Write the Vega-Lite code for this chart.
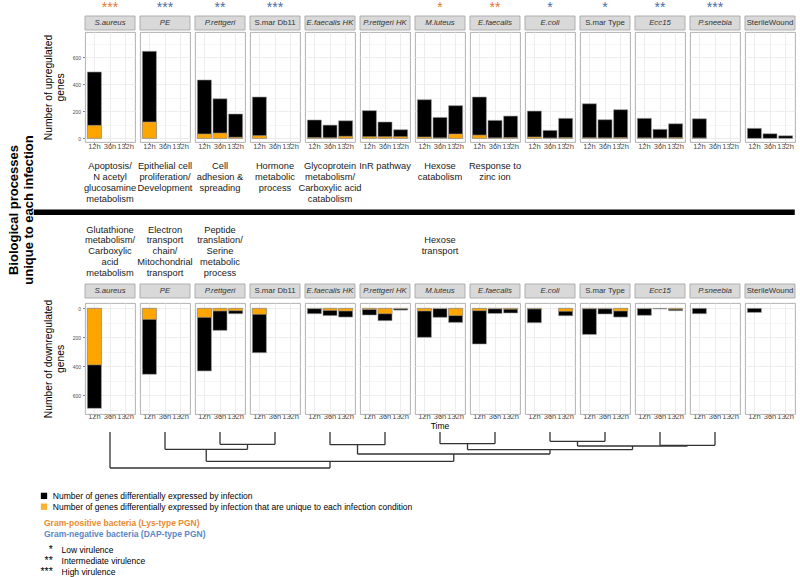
{
"$schema": "https://vega.github.io/schema/vega-lite/v6.json",
"background": "white",
"padding": {"left": 0, "top": 0, "right": 0, "bottom": 0},
"config": {
  "font": "Liberation Sans",
  "view": {"stroke": "#A8A8A8", "strokeWidth": 0.9},
  "concat": {"spacing": 0}
},
"datasets": {
  "title": [{"label": "Biological processes\nunique to each infection"}],
  "panels": [
    {"infection": "S.aureus", "stars": "***", "gram": "positive"},
    {"infection": "PE", "stars": "***", "gram": "negative"},
    {"infection": "P.rettgeri", "stars": "**", "gram": "negative"},
    {"infection": "S.mar Db11", "stars": "***", "gram": "negative"},
    {"infection": "E.faecalis HK", "stars": "", "gram": "positive"},
    {"infection": "P.rettgeri HK", "stars": "", "gram": "negative"},
    {"infection": "M.luteus", "stars": "*", "gram": "positive"},
    {"infection": "E.faecalis", "stars": "**", "gram": "positive"},
    {"infection": "E.coli", "stars": "*", "gram": "negative"},
    {"infection": "S.mar Type", "stars": "*", "gram": "negative"},
    {"infection": "Ecc15", "stars": "**", "gram": "negative"},
    {"infection": "P.sneebia", "stars": "***", "gram": "negative"},
    {"infection": "SterileWound", "stars": "", "gram": "none"}
  ],
  "bars": [
    {"infection": "S.aureus", "time": "12h", "up_total": 491, "up_unique": 96, "down_total": 690, "down_unique": 390},
    {"infection": "PE", "time": "12h", "up_total": 644, "up_unique": 121, "down_total": 455, "down_unique": 76},
    {"infection": "P.rettgeri", "time": "12h", "up_total": 432, "up_unique": 32, "down_total": 432, "down_unique": 62},
    {"infection": "P.rettgeri", "time": "36h", "up_total": 293, "up_unique": 39, "down_total": 152, "down_unique": 18},
    {"infection": "P.rettgeri", "time": "132h", "up_total": 180, "up_unique": 8, "down_total": 37, "down_unique": 16},
    {"infection": "S.mar Db11", "time": "12h", "up_total": 306, "up_unique": 20, "down_total": 306, "down_unique": 41},
    {"infection": "E.faecalis HK", "time": "12h", "up_total": 136, "up_unique": 5, "down_total": 37, "down_unique": 2},
    {"infection": "E.faecalis HK", "time": "36h", "up_total": 98, "up_unique": 4, "down_total": 50, "down_unique": 14},
    {"infection": "E.faecalis HK", "time": "132h", "up_total": 130, "up_unique": 15, "down_total": 60, "down_unique": 18},
    {"infection": "P.rettgeri HK", "time": "12h", "up_total": 205, "up_unique": 12, "down_total": 46, "down_unique": 8},
    {"infection": "P.rettgeri HK", "time": "36h", "up_total": 121, "up_unique": 12, "down_total": 85, "down_unique": 37},
    {"infection": "P.rettgeri HK", "time": "132h", "up_total": 64, "up_unique": 12, "down_total": 12, "down_unique": 3},
    {"infection": "M.luteus", "time": "12h", "up_total": 286, "up_unique": 10, "down_total": 200, "down_unique": 18},
    {"infection": "M.luteus", "time": "36h", "up_total": 155, "up_unique": 3, "down_total": 62, "down_unique": 2},
    {"infection": "M.luteus", "time": "132h", "up_total": 242, "up_unique": 32, "down_total": 97, "down_unique": 50},
    {"infection": "E.faecalis", "time": "12h", "up_total": 306, "up_unique": 24, "down_total": 246, "down_unique": 16},
    {"infection": "E.faecalis", "time": "36h", "up_total": 133, "up_unique": 3, "down_total": 35, "down_unique": 3},
    {"infection": "E.faecalis", "time": "132h", "up_total": 165, "up_unique": 5, "down_total": 32, "down_unique": 6},
    {"infection": "E.coli", "time": "12h", "up_total": 202, "up_unique": 10, "down_total": 99, "down_unique": 4},
    {"infection": "E.coli", "time": "36h", "up_total": 59, "up_unique": 2, "down_total": null, "down_unique": null},
    {"infection": "E.coli", "time": "132h", "up_total": 148, "up_unique": 5, "down_total": 51, "down_unique": 20},
    {"infection": "S.mar Type", "time": "12h", "up_total": 256, "up_unique": 4, "down_total": 180, "down_unique": 3},
    {"infection": "S.mar Type", "time": "36h", "up_total": 138, "up_unique": 3, "down_total": 39, "down_unique": 3},
    {"infection": "S.mar Type", "time": "132h", "up_total": 212, "up_unique": 5, "down_total": 60, "down_unique": 18},
    {"infection": "Ecc15", "time": "12h", "up_total": 148, "up_unique": 3, "down_total": 48, "down_unique": 2},
    {"infection": "Ecc15", "time": "36h", "up_total": 67, "up_unique": 2, "down_total": 4, "down_unique": null},
    {"infection": "Ecc15", "time": "132h", "up_total": 108, "up_unique": 5, "down_total": 16, "down_unique": 6},
    {"infection": "P.sneebia", "time": "12h", "up_total": 145, "up_unique": 2, "down_total": 37, "down_unique": null},
    {"infection": "SterileWound", "time": "12h", "up_total": 74, "up_unique": null, "down_total": 28, "down_unique": null},
    {"infection": "SterileWound", "time": "36h", "up_total": 34, "up_unique": null, "down_total": null, "down_unique": null},
    {"infection": "SterileWound", "time": "132h", "up_total": 19, "up_unique": null, "down_total": null, "down_unique": null}
  ],
  "annot": [
    {"infection": "S.aureus", "set": "upregulated", "text": "Apoptosis/\nN acetyl\nglucosamine\nmetabolism"},
    {"infection": "PE", "set": "upregulated", "text": "Epithelial cell\nproliferation/\nDevelopment"},
    {"infection": "P.rettgeri", "set": "upregulated", "text": "Cell\nadhesion &\nspreading"},
    {"infection": "S.mar Db11", "set": "upregulated", "text": "Hormone\nmetabolic\nprocess"},
    {"infection": "E.faecalis HK", "set": "upregulated", "text": "Glycoprotein\nmetabolism/\nCarboxylic acid\ncatabolism"},
    {"infection": "P.rettgeri HK", "set": "upregulated", "text": "InR pathway"},
    {"infection": "M.luteus", "set": "upregulated", "text": "Hexose\ncatabolism"},
    {"infection": "E.faecalis", "set": "upregulated", "text": "Response to\nzinc ion"},
    {"infection": "S.aureus", "set": "downregulated", "text": "Glutathione\nmetabolism/\nCarboxylic\nacid\nmetabolism"},
    {"infection": "PE", "set": "downregulated", "text": "Electron\ntransport\nchain/\nMitochondrial\ntransport"},
    {"infection": "P.rettgeri", "set": "downregulated", "text": "Peptide\ntranslation/\nSerine\nmetabolic\nprocess"},
    {"infection": "M.luteus", "set": "downregulated", "text": "\n\n\nHexose\ntransport"}
  ],
  "sep": [{"start": -0.886, "end": 12.95}],
  "dendro": [
    {"x": 0.5, "x2": 0.5, "y": 0, "y2": 36},
    {"x": 1.5, "x2": 1.5, "y": 0, "y2": 17.3},
    {"x": 2.5, "x2": 2.5, "y": 0, "y2": 12.3},
    {"x": 3.5, "x2": 3.5, "y": 0, "y2": 12.3},
    {"x": 4.5, "x2": 4.5, "y": 0, "y2": 12.7},
    {"x": 5.5, "x2": 5.5, "y": 0, "y2": 12.7},
    {"x": 6.5, "x2": 6.5, "y": 0, "y2": 11.7},
    {"x": 7.5, "x2": 7.5, "y": 0, "y2": 11.7},
    {"x": 8.5, "x2": 8.5, "y": 0, "y2": 9.3},
    {"x": 9.5, "x2": 9.5, "y": 0, "y2": 9.3},
    {"x": 10.5, "x2": 10.5, "y": 0, "y2": 13.3},
    {"x": 11.5, "x2": 11.5, "y": 0, "y2": 13.3},
    {"x": 3.0, "x2": 3.0, "y": 12.3, "y2": 17.3},
    {"x": 2.25, "x2": 2.25, "y": 17.3, "y2": 29.3},
    {"x": 5.0, "x2": 5.0, "y": 12.7, "y2": 22},
    {"x": 7.0, "x2": 7.0, "y": 11.7, "y2": 17.7},
    {"x": 9.0, "x2": 9.0, "y": 9.3, "y2": 14},
    {"x": 11.0, "x2": 11.0, "y": 13.3, "y2": 14},
    {"x": 10.0, "x2": 10.0, "y": 14, "y2": 17.7},
    {"x": 8.5, "x2": 8.5, "y": 17.7, "y2": 22},
    {"x": 6.75, "x2": 6.75, "y": 22, "y2": 29.3},
    {"x": 4.5, "x2": 4.5, "y": 29.3, "y2": 36},
    {"x": 2.5, "x2": 3.5, "y": 12.3, "y2": 12.3},
    {"x": 1.5, "x2": 3.0, "y": 17.3, "y2": 17.3},
    {"x": 4.5, "x2": 5.5, "y": 12.7, "y2": 12.7},
    {"x": 6.5, "x2": 7.5, "y": 11.7, "y2": 11.7},
    {"x": 8.5, "x2": 9.5, "y": 9.3, "y2": 9.3},
    {"x": 10.5, "x2": 11.5, "y": 13.3, "y2": 13.3},
    {"x": 9.0, "x2": 11.0, "y": 14, "y2": 14},
    {"x": 7.0, "x2": 10.0, "y": 17.7, "y2": 17.7},
    {"x": 5.0, "x2": 8.5, "y": 22, "y2": 22},
    {"x": 2.25, "x2": 6.75, "y": 29.3, "y2": 29.3},
    {"x": 0.5, "x2": 4.5, "y": 36, "y2": 36}
  ],
  "legend": [
    {"item": "total", "symbol": "", "text": "Number of genes differentially expressed by infection"},
    {"item": "unique", "symbol": "", "text": "Number of genes differentially expressed by infection that are unique to each infection condition"},
    {"item": "gram+", "symbol": "", "text": "Gram-positive bacteria (Lys-type PGN)"},
    {"item": "gram-", "symbol": "", "text": "Gram-negative bacteria (DAP-type PGN)"},
    {"item": "low", "symbol": "*", "text": "Low virulence"},
    {"item": "intermediate", "symbol": "**", "text": "Intermediate virulence"},
    {"item": "high", "symbol": "***", "text": "High virulence"}
  ]
},
"spacing": 21.5,
"vconcat": [
  {
    "spacing": -5,
    "hconcat": [
      {
        "width": 28, "height": 420, "view": {"stroke": null},
        "data": {"name": "title"},
        "mark": {"type": "text", "angle": 270, "fontSize": 13, "fontWeight": "bold", "lineBreak": "\n", "lineHeight": 15, "color": "#000000"},
        "encoding": {"text": {"field": "label", "type": "nominal"}}
      },
      {
        "spacing": 0,
        "vconcat": [
          {
            "width": 710, "height": 15, "view": {"stroke": null},
            "data": {"name": "panels"},
            "layer": [
              {"transform": [{"filter": "datum.gram === 'positive'"}],
               "mark": {"type": "text", "fontSize": 14, "color": "#E07B39"},
               "encoding": {"x": {"field": "infection", "type": "nominal", "scale": {"type": "band", "domain": ["S.aureus","PE","P.rettgeri","S.mar Db11","E.faecalis HK","P.rettgeri HK","M.luteus","E.faecalis","E.coli","S.mar Type","Ecc15","P.sneebia","SterileWound"], "paddingInner": 0.0909, "paddingOuter": 0}, "axis": null},
                            "text": {"field": "stars", "type": "nominal"}}},
              {"transform": [{"filter": "datum.gram === 'negative'"}],
               "mark": {"type": "text", "fontSize": 14, "color": "#4A6DA7"},
               "encoding": {"x": {"field": "infection", "type": "nominal", "scale": {"type": "band", "domain": ["S.aureus","PE","P.rettgeri","S.mar Db11","E.faecalis HK","P.rettgeri HK","M.luteus","E.faecalis","E.coli","S.mar Type","Ecc15","P.sneebia","SterileWound"], "paddingInner": 0.0909, "paddingOuter": 0}, "axis": null},
                            "text": {"field": "stars", "type": "nominal"}}}
            ]
          },
          {
            "width": 710, "height": 14, "view": {"stroke": null},
            "data": {"name": "panels"},
            "encoding": {"x": {"field": "infection", "type": "nominal", "scale": {"type": "band", "domain": ["S.aureus","PE","P.rettgeri","S.mar Db11","E.faecalis HK","P.rettgeri HK","M.luteus","E.faecalis","E.coli","S.mar Type","Ecc15","P.sneebia","SterileWound"], "paddingInner": 0.0909, "paddingOuter": 0}, "axis": null}},
            "layer": [
              {"mark": {"type": "rect", "fill": "#D9D9D9", "stroke": "#A8A8A8", "strokeWidth": 0.9}},
              {"transform": [{"filter": {"not": {"field": "infection", "oneOf": ["S.mar Db11","S.mar Type","SterileWound"]}}}],
               "mark": {"type": "text", "fontSize": 7.8, "fontStyle": "italic", "color": "#333333"},
               "encoding": {"text": {"field": "infection", "type": "nominal"}}},
              {"transform": [{"filter": {"field": "infection", "oneOf": ["S.mar Db11","S.mar Type","SterileWound"]}}],
               "mark": {"type": "text", "fontSize": 7.8, "color": "#333333"},
               "encoding": {"text": {"field": "infection", "type": "nominal"}}}
            ]
          },
          {
            "data": {"name": "bars"},
            "facet": {"column": {"field": "infection", "type": "nominal", "sort": ["S.aureus","PE","P.rettgeri","S.mar Db11","E.faecalis HK","P.rettgeri HK","M.luteus","E.faecalis","E.coli","S.mar Type","Ecc15","P.sneebia","SterileWound"], "header": {"labels": false, "title": null}}},
            "spacing": 5,
            "bounds": "flush",
            "spec": {
              "width": 50, "height": 110,
              "transform": [{"fold": ["up_total", "up_unique"], "as": ["kind", "value"]}],
              "mark": {"type": "bar", "stroke": "#9E9E9E", "strokeWidth": 0.6},
              "encoding": {
                "x": {"field": "time", "type": "ordinal", "scale": {"domain": ["12h","36h","132h"], "paddingInner": 0.1, "paddingOuter": 0.15},
                      "axis": {"title": null, "labelFontSize": 7.5, "labelColor": "#4D4D4D", "labelPadding": -2.5, "tickSize": 2.5, "tickColor": "#333333", "tickWidth": 0.6, "domain": false, "grid": true, "gridColor": "#EBEBEB", "gridWidth": 0.9, "labelAngle": 0, "labelOverlap": false, "labelBound": false}},
                "y": {"field": "value", "type": "quantitative", "stack": null,
                      "scale": {"domain": [-27, 787], "nice": false, "zero": false},
                      "axis": {"title": ["Number of upregulated", "genes"], "titleFontSize": 10.3, "titleFontWeight": "normal", "titleColor": "#000000", "titlePadding": 7, "titleLineHeight": 12,
                               "values": [0,100,200,300,400,500,600,700], "labelExpr": "datum.value % 200 === 0 ? datum.label : ''",
                               "labelFontSize": 5, "labelColor": "#4D4D4D", "labelPadding": 2, "labelOverlap": false,
                               "tickSize": 2.5, "tickColor": "#333333", "tickWidth": 0.6,
                               "tickOpacity": {"condition": {"test": "datum.value % 200 === 0", "value": 1}, "value": 0},
                               "grid": true, "gridColor": "#EBEBEB",
                               "gridWidth": {"condition": {"test": "datum.value % 200 === 0", "value": 0.9}, "value": 0.45},
                               "domain": false}},
                "y2": {"datum": 0},
                "fill": {"condition": {"test": "datum.kind === 'up_unique'", "value": "#FFA500"}, "value": "#000000"}
              }
            }
          },
          {
            "width": 710, "height": 132.5, "view": {"stroke": null},
            "data": {"name": "annot"},
            "layer": [
              {"transform": [{"filter": "datum.set === 'upregulated'"}],
               "mark": {"type": "text", "baseline": "top", "align": "center", "lineBreak": "\n", "fontSize": 9.3, "lineHeight": 11, "color": "#1A1A1A"},
               "encoding": {
                 "x": {"field": "infection", "type": "nominal", "scale": {"type": "band", "domain": ["S.aureus","PE","P.rettgeri","S.mar Db11","E.faecalis HK","P.rettgeri HK","M.luteus","E.faecalis","E.coli","S.mar Type","Ecc15","P.sneebia","SterileWound"], "paddingInner": 0.0909, "paddingOuter": 0}, "axis": null},
                 "y": {"field": "set", "type": "nominal", "bandPosition": 0, "scale": {"type": "band", "domain": ["upregulated", "downregulated"], "paddingInner": 0.211, "paddingOuter": 0.1406, "align": 0.65}, "axis": null},
                 "text": {"field": "text", "type": "nominal"}}},
              {"transform": [{"filter": "datum.set === 'downregulated'"}],
               "mark": {"type": "text", "baseline": "top", "align": "center", "lineBreak": "\n", "fontSize": 9.3, "lineHeight": 10.8, "color": "#1A1A1A"},
               "encoding": {
                 "x": {"field": "infection", "type": "nominal", "scale": {"type": "band", "domain": ["S.aureus","PE","P.rettgeri","S.mar Db11","E.faecalis HK","P.rettgeri HK","M.luteus","E.faecalis","E.coli","S.mar Type","Ecc15","P.sneebia","SterileWound"], "paddingInner": 0.0909, "paddingOuter": 0}, "axis": null},
                 "y": {"field": "set", "type": "nominal", "bandPosition": 0, "scale": {"type": "band", "domain": ["upregulated", "downregulated"], "paddingInner": 0.211, "paddingOuter": 0.1406, "align": 0.65}, "axis": null},
                 "text": {"field": "text", "type": "nominal"}}},
              {"data": {"name": "sep"},
               "mark": {"type": "rule", "strokeWidth": 5.5, "color": "#000000", "strokeCap": "butt"},
               "encoding": {
                 "x": {"field": "start", "type": "quantitative", "scale": {"domain": [0.0455, 12.9545], "nice": false, "zero": false}, "axis": null},
                 "x2": {"field": "end"},
                 "y": {"datum": "upregulated", "type": "nominal", "bandPosition": 1, "scale": {"type": "band", "domain": ["upregulated", "downregulated"], "paddingInner": 0.211, "paddingOuter": 0.1406, "align": 0.65}, "axis": null}}}
            ],
            "resolve": {"scale": {"x": "independent"}}
          },
          {
            "width": 710, "height": 14, "view": {"stroke": null},
            "data": {"name": "panels"},
            "encoding": {"x": {"field": "infection", "type": "nominal", "scale": {"type": "band", "domain": ["S.aureus","PE","P.rettgeri","S.mar Db11","E.faecalis HK","P.rettgeri HK","M.luteus","E.faecalis","E.coli","S.mar Type","Ecc15","P.sneebia","SterileWound"], "paddingInner": 0.0909, "paddingOuter": 0}, "axis": null}},
            "layer": [
              {"mark": {"type": "rect", "fill": "#D9D9D9", "stroke": "#A8A8A8", "strokeWidth": 0.9}},
              {"transform": [{"filter": {"not": {"field": "infection", "oneOf": ["S.mar Db11","S.mar Type","SterileWound"]}}}],
               "mark": {"type": "text", "fontSize": 7.8, "fontStyle": "italic", "color": "#333333"},
               "encoding": {"text": {"field": "infection", "type": "nominal"}}},
              {"transform": [{"filter": {"field": "infection", "oneOf": ["S.mar Db11","S.mar Type","SterileWound"]}}],
               "mark": {"type": "text", "fontSize": 7.8, "color": "#333333"},
               "encoding": {"text": {"field": "infection", "type": "nominal"}}}
            ]
          },
          {
            "data": {"name": "bars"},
            "facet": {"column": {"field": "infection", "type": "nominal", "sort": ["S.aureus","PE","P.rettgeri","S.mar Db11","E.faecalis HK","P.rettgeri HK","M.luteus","E.faecalis","E.coli","S.mar Type","Ecc15","P.sneebia","SterileWound"],
                                 "header": {"labels": false, "title": "Time", "titleOrient": "bottom", "titleFontSize": 8.5, "titleFontWeight": "normal", "titleColor": "#000000", "titlePadding": -9}}},
            "spacing": 5,
            "bounds": "flush",
            "spec": {
              "width": 50, "height": 111,
              "transform": [{"fold": ["down_total", "down_unique"], "as": ["kind", "value"]}],
              "mark": {"type": "bar", "stroke": "#9E9E9E", "strokeWidth": 0.6},
              "encoding": {
                "x": {"field": "time", "type": "ordinal", "scale": {"domain": ["12h","36h","132h"], "paddingInner": 0.1, "paddingOuter": 0.15},
                      "axis": {"title": null, "labelFontSize": 7.5, "labelColor": "#4D4D4D", "labelPadding": -3.8, "tickSize": 2.5, "tickColor": "#333333", "tickWidth": 0.6, "domain": false, "grid": true, "gridColor": "#EBEBEB", "gridWidth": 0.9, "labelAngle": 0, "labelOverlap": false, "labelBound": false}},
                "y": {"field": "value", "type": "quantitative", "stack": null,
                      "scale": {"domain": [-37, 729], "reverse": true, "nice": false, "zero": false},
                      "axis": {"title": ["Number of downregulated", "genes"], "titleFontSize": 10.3, "titleFontWeight": "normal", "titleColor": "#000000", "titlePadding": 7, "titleLineHeight": 12,
                               "values": [0,100,200,300,400,500,600,700], "labelExpr": "datum.value % 200 === 0 ? datum.label : ''",
                               "labelFontSize": 5, "labelColor": "#4D4D4D", "labelPadding": 2, "labelOverlap": false,
                               "tickSize": 2.5, "tickColor": "#333333", "tickWidth": 0.6,
                               "tickOpacity": {"condition": {"test": "datum.value % 200 === 0", "value": 1}, "value": 0},
                               "grid": true, "gridColor": "#EBEBEB",
                               "gridWidth": {"condition": {"test": "datum.value % 200 === 0", "value": 0.9}, "value": 0.45},
                               "domain": false}},
                "y2": {"datum": 0},
                "fill": {"condition": {"test": "datum.kind === 'down_unique'", "value": "#FFA500"}, "value": "#000000"}
              }
            }
          },
          {
            "width": 710, "height": 36, "view": {"stroke": null},
            "data": {"name": "dendro"},
            "mark": {"type": "rule", "color": "#333333", "strokeWidth": 1.3},
            "encoding": {
              "x": {"field": "x", "type": "quantitative", "scale": {"domain": [0.0455, 12.9545], "nice": false, "zero": false}, "axis": null},
              "x2": {"field": "x2"},
              "y": {"field": "y", "type": "quantitative", "scale": {"domain": [0, 36], "reverse": true, "nice": false, "zero": false}, "axis": null},
              "y2": {"field": "y2"}
            }
          }
        ]
      }
    ]
  },
  {
    "width": 61.6, "height": 86.4, "view": {"stroke": null},
    "data": {"name": "legend"},
    "layer": [
      {"transform": [{"filter": "datum.item === 'total'"}],
       "mark": {"type": "point", "shape": "square", "filled": true, "size": 40, "color": "#000000", "opacity": 1},
       "encoding": {
         "x": {"datum": "key", "type": "nominal", "scale": {"type": "point", "domain": ["c0","c1","c2","c3","c4","key","label","label2"], "padding": 0}, "axis": null},
         "y": {"field": "item", "type": "nominal", "scale": {"type": "point", "domain": ["total","s1","unique","s2","s3","gram+","s4","gram-","s5","s6","low","s7","intermediate","s8","high"], "padding": 1}, "axis": null}}},
      {"transform": [{"filter": "datum.item === 'unique'"}],
       "mark": {"type": "point", "shape": "square", "filled": true, "size": 40, "color": "#F9B233", "opacity": 1},
       "encoding": {
         "x": {"datum": "key", "type": "nominal", "scale": {"type": "point", "domain": ["c0","c1","c2","c3","c4","key","label","label2"], "padding": 0}, "axis": null},
         "y": {"field": "item", "type": "nominal", "scale": {"type": "point", "domain": ["total","s1","unique","s2","s3","gram+","s4","gram-","s5","s6","low","s7","intermediate","s8","high"], "padding": 1}, "axis": null}}},
      {"transform": [{"filter": "datum.item === 'total' || datum.item === 'unique'"}],
       "mark": {"type": "text", "align": "left", "fontSize": 8.5, "color": "#000000"},
       "encoding": {
         "x": {"datum": "label", "type": "nominal", "scale": {"type": "point", "domain": ["c0","c1","c2","c3","c4","key","label","label2"], "padding": 0}, "axis": null},
         "y": {"field": "item", "type": "nominal", "scale": {"type": "point", "domain": ["total","s1","unique","s2","s3","gram+","s4","gram-","s5","s6","low","s7","intermediate","s8","high"], "padding": 1}, "axis": null},
         "text": {"field": "text", "type": "nominal"}}},
      {"transform": [{"filter": "datum.item === 'gram+'"}],
       "mark": {"type": "text", "align": "left", "fontSize": 8.5, "fontWeight": "bold", "color": "#E98B2E"},
       "encoding": {
         "x": {"datum": "key", "type": "nominal", "scale": {"type": "point", "domain": ["c0","c1","c2","c3","c4","key","label","label2"], "padding": 0}, "axis": null},
         "y": {"field": "item", "type": "nominal", "scale": {"type": "point", "domain": ["total","s1","unique","s2","s3","gram+","s4","gram-","s5","s6","low","s7","intermediate","s8","high"], "padding": 1}, "axis": null},
         "text": {"field": "text", "type": "nominal"}}},
      {"transform": [{"filter": "datum.item === 'gram-'"}],
       "mark": {"type": "text", "align": "left", "fontSize": 8.5, "fontWeight": "bold", "color": "#5B87C6"},
       "encoding": {
         "x": {"datum": "key", "type": "nominal", "scale": {"type": "point", "domain": ["c0","c1","c2","c3","c4","key","label","label2"], "padding": 0}, "axis": null},
         "y": {"field": "item", "type": "nominal", "scale": {"type": "point", "domain": ["total","s1","unique","s2","s3","gram+","s4","gram-","s5","s6","low","s7","intermediate","s8","high"], "padding": 1}, "axis": null},
         "text": {"field": "text", "type": "nominal"}}},
      {"transform": [{"filter": "datum.symbol !== ''"}],
       "mark": {"type": "text", "align": "right", "fontSize": 10.5, "color": "#000000"},
       "encoding": {
         "x": {"datum": "label", "type": "nominal", "scale": {"type": "point", "domain": ["c0","c1","c2","c3","c4","key","label","label2"], "padding": 0}, "axis": null},
         "y": {"field": "item", "type": "nominal", "scale": {"type": "point", "domain": ["total","s1","unique","s2","s3","gram+","s4","gram-","s5","s6","low","s7","intermediate","s8","high"], "padding": 1}, "axis": null},
         "text": {"field": "symbol", "type": "nominal"}}},
      {"transform": [{"filter": "datum.symbol !== ''"}],
       "mark": {"type": "text", "align": "left", "fontSize": 8.5, "color": "#000000"},
       "encoding": {
         "x": {"datum": "label2", "type": "nominal", "scale": {"type": "point", "domain": ["c0","c1","c2","c3","c4","key","label","label2"], "padding": 0}, "axis": null},
         "y": {"field": "item", "type": "nominal", "scale": {"type": "point", "domain": ["total","s1","unique","s2","s3","gram+","s4","gram-","s5","s6","low","s7","intermediate","s8","high"], "padding": 1}, "axis": null},
         "text": {"field": "text", "type": "nominal"}}}
    ]
  }
]
}
